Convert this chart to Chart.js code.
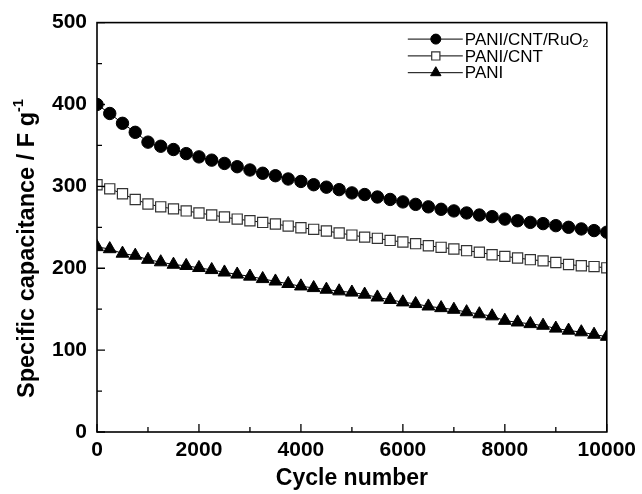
<!DOCTYPE html>
<html lang="en">
<head>
  <meta charset="UTF-8" />
  <title>Cycling stability</title>
  <style>
    html, body { margin:0; padding:0; background:#fff; }
    #wrap { width:642px; height:494px; position:relative; }
  </style>
  <script src="https://cdn.jsdelivr.net/npm/chart.js"></script>
</head>
<body>
  <div id="wrap"><canvas id="cycleChart"></canvas></div>

  <script>
    // cycle numbers (every 250 cycles)
    const cycles = [0, 250, 500, 750, 1000, 1250, 1500, 1750, 2000, 2250, 2500, 2750, 3000, 3250,
      3500, 3750, 4000, 4250, 4500, 4750, 5000, 5250, 5500, 5750, 6000, 6250, 6500, 6750, 7000,
      7250, 7500, 7750, 8000, 8250, 8500, 8750, 9000, 9250, 9500, 9750, 10000];

    // specific capacitance, F/g
    const paniCntRuo2 = [400, 389, 377, 366, 354, 349, 345, 340, 336, 332, 328, 324, 320, 316,
      313, 309, 306, 302, 299, 296, 292, 290, 287, 284, 281, 278, 275, 272, 270,
      267.5, 265, 263, 260, 258, 256, 254.5, 252, 250, 248, 246, 244];
    const paniCnt = [302, 297, 291, 284, 278.5, 275, 272.5, 270, 267.5, 265, 262.5, 260, 258, 256,
      254, 251.5, 249.5, 247.5, 245.5, 243, 240.5, 238, 236.5, 234, 232, 230, 227.5, 225.5, 223.5,
      221.5, 219.5, 216.5, 214.5, 212.5, 210.5, 209, 207, 204.5, 203, 202, 200.5];
    const pani = [226, 223.5, 218, 215.5, 210.5, 207.5, 204.5, 203, 200.5, 198, 195, 192.5, 190, 187,
      184, 181, 178, 176, 174, 172, 170.5, 168, 164.5, 161.5, 158.5, 156.5, 153.5, 151.5, 149.5,
      146.5, 144, 141.5, 136, 134, 132, 130, 126.5, 124, 122, 119, 116.5];

    const seriesNames = ['PANI/CNT/RuO₂', 'PANI/CNT', 'PANI'];
    const xTicks = [0, 2000, 4000, 6000, 8000, 10000];
    const yTicks = [0, 100, 200, 300, 400, 500];

    const FONT = '"Liberation Sans", Arial, Helvetica, sans-serif';

    const toPoints = ys => ys.map((y, i) => ({ x: cycles[i], y }));

    // draws text pieces, sub/sup pieces smaller and shifted
    function drawRich(ctx, parts, x, y, size, weight) {
      let cx = x;
      parts.forEach(p => {
        const s = p.sub || p.sup ? size * 0.62 : size;
        ctx.font = `${weight} ${s}px ${FONT}`;
        const dy = p.sub ? size * 0.22 : p.sup ? -size * 0.45 : 0;
        ctx.fillText(p.t, cx, y + dy);
        cx += ctx.measureText(p.t).width;
      });
      return cx - x;
    }

    function splitLabel(label) {
      const i = label.indexOf('₂');
      if (i < 0) return [{ t: label }];
      return [{ t: label.slice(0, i) }, { t: '2', sub: true }];
    }

    const framePlugin = {
      id: 'frame',
      afterDatasetsDraw(chart) {
        const { ctx, chartArea: a, scales } = chart;
        const xs = scales.x, ys = scales.y;
        ctx.save();
        ctx.strokeStyle = '#000';
        ctx.lineWidth = 1.6;
        ctx.strokeRect(a.left, a.top, a.right - a.left, a.bottom - a.top);

        // inward ticks on bottom and left
        ctx.lineWidth = 1.3;
        ctx.beginPath();
        for (let v = 0; v <= 10000; v += 1000) {
          const px = xs.getPixelForValue(v);
          const len = v % 2000 === 0 ? 8 : 5;
          ctx.moveTo(px, a.bottom);
          ctx.lineTo(px, a.bottom - len);
        }
        for (let v = 0; v <= 500; v += 50) {
          const py = ys.getPixelForValue(v);
          const len = v % 100 === 0 ? 8 : 5;
          ctx.moveTo(a.left, py);
          ctx.lineTo(a.left + len, py);
        }
        ctx.stroke();

        // legend
        const lx = a.right - 199, rowH = 16.8;
        ctx.textBaseline = 'middle';
        ctx.fillStyle = '#000';
        chart.data.datasets.forEach((ds, i) => {
          const y = a.top + 16.5 + i * rowH;
          ctx.strokeStyle = '#000';
          ctx.lineWidth = 1;
          ctx.beginPath();
          ctx.moveTo(lx, y);
          ctx.lineTo(lx + 55, y);
          ctx.stroke();
          ctx.fillStyle = ds.pointBackgroundColor;
          ctx.strokeStyle = ds.pointBorderColor;
          ctx.lineWidth = ds.pointBorderWidth;
          Chart.helpers.drawPoint(ctx, {
            pointStyle: ds.pointStyle,
            radius: ds.legendRadius,
            rotation: 0,
            borderWidth: ds.pointBorderWidth
          }, lx + 28, y);
          ctx.fillStyle = '#000';
          drawRich(ctx, splitLabel(ds.label), lx + 57, y + 1, 17, 'normal');
        });

        // y axis title with superscript
        ctx.translate(34, 255);
        ctx.rotate(-Math.PI / 2);
        ctx.textBaseline = 'alphabetic';
        ctx.fillStyle = '#000';
        const ts = 23.5;
        const parts = [{ t: 'Specific capacitance / F g' }, { t: '-1', sup: true }];
        ctx.font = `bold ${ts}px ${FONT}`;
        const w = ctx.measureText(parts[0].t).width;
        drawRich(ctx, parts, -w / 2, 0, ts, 'bold');
        ctx.restore();
      }
    };

    const common = { showLine: true, clip: 0, borderColor: '#000', borderWidth: 1, pointBorderColor: '#000' };

    new Chart(document.getElementById('cycleChart'), {
      type: 'scatter',
      data: {
        datasets: [
          { ...common, label: seriesNames[0], data: toPoints(paniCntRuo2), pointStyle: 'circle',
            pointRadius: 6.2, legendRadius: 5, pointBackgroundColor: '#000', pointBorderWidth: 1 },
          { ...common, label: seriesNames[1], data: toPoints(paniCnt), pointStyle: 'rect',
            pointRadius: 7.2, legendRadius: 5.8, pointBackgroundColor: '#fff', pointBorderColor: '#333',
            pointBorderWidth: 1.2 },
          { ...common, label: seriesNames[2], data: toPoints(pani), pointStyle: 'triangle',
            pointRadius: 7.4, legendRadius: 6, pointBackgroundColor: '#000', pointBorderWidth: 1 }
        ]
      },
      options: {
        responsive: true,
        maintainAspectRatio: false,
        animation: false,
        layout: { padding: { top: 22, right: 31, left: 0, bottom: 0 } },
        plugins: { legend: { display: false }, tooltip: { enabled: false } },
        elements: { line: { tension: 0 } },
        scales: {
          x: {
            type: 'linear', min: 0, max: 10000,
            afterBuildTicks: s => { s.ticks = xTicks.map(v => ({ value: v })); },
            afterFit: s => { s.height = 62; },
            grid: { display: false, drawTicks: false },
            border: { display: false },
            ticks: { color: '#000', padding: 6, maxRotation: 0, autoSkip: false,
              callback: v => String(v),
              font: { family: FONT, size: 21, weight: 'bold' } },
            title: { display: true, text: 'Cycle number', color: '#000',
              font: { family: FONT, size: 23, weight: 'bold' }, padding: { top: 0, bottom: 2 } }
          },
          y: {
            min: 0, max: 500,
            afterBuildTicks: s => { s.ticks = yTicks.map(v => ({ value: v })); },
            afterFit: s => { s.width = 97; },
            grid: { display: false, drawTicks: false },
            border: { display: false },
            ticks: { color: '#000', padding: 10, callback: v => String(v),
              font: { family: FONT, size: 21, weight: 'bold' } }
          }
        }
      },
      plugins: [framePlugin]
    });
  </script>
</body>
</html>
